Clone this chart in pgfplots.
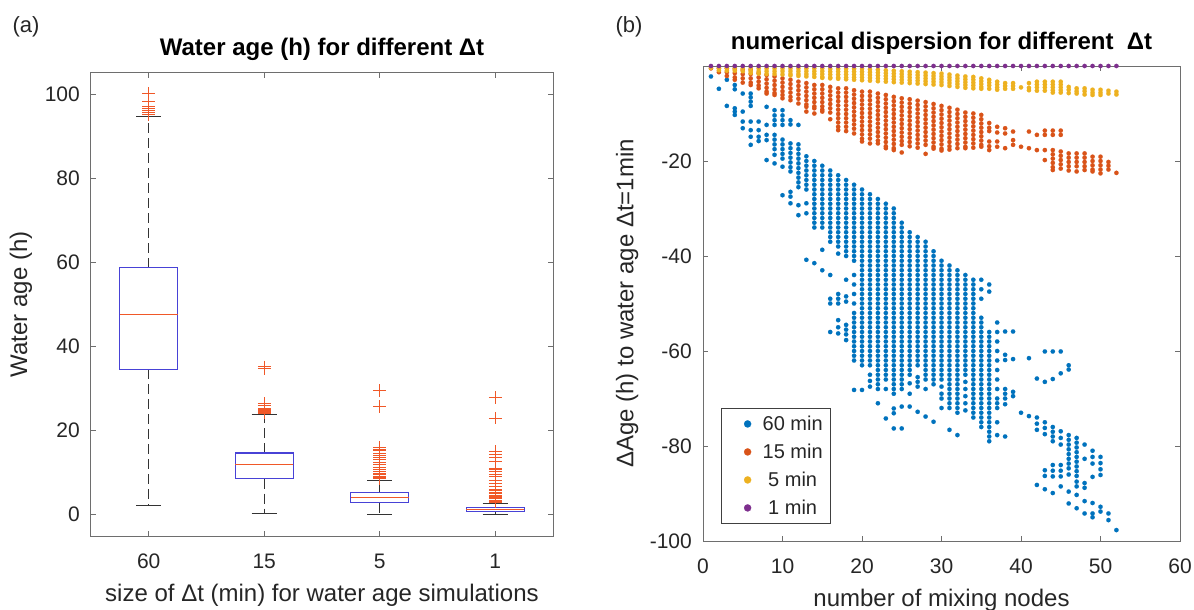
\documentclass[border=0pt]{standalone}
\usepackage{pgfplots}
\pgfplotsset{compat=1.18}
\usepgfplotslibrary{statistics}
\usepackage{fontspec}
\setmainfont{Liberation Sans}
\definecolor{mblue}{RGB}{0,114,189}
\definecolor{morange}{RGB}{217,83,25}
\definecolor{myellow}{RGB}{237,177,32}
\definecolor{mpurple}{RGB}{126,47,142}
\definecolor{boxcol}{RGB}{72,66,214}
\definecolor{medcol}{RGB}{240,88,40}
\definecolor{axcol}{RGB}{110,110,110}
\definecolor{txtcol}{RGB}{38,38,38}
\newcommand{\tickfont}{\fontsize{21}{25}\selectfont}
\newcommand{\labfont}{\fontsize{24}{28}\selectfont}

\pgfplotsset{
  mstyle/.style={
    scale only axis,
    axis line style={axcol, line width=1pt},
    every tick/.style={axcol, line width=1pt},
    major tick length=5pt,
    tick align=inside,
    xtick pos=both, ytick pos=both,
    ticklabel style={font=\tickfont, text=txtcol, inner sep=0pt},
    xticklabel style={anchor=base, yshift=-32pt},
    yticklabel style={anchor=east, xshift=-11pt},
    label style={font=\labfont, text=txtcol},
    xlabel style={at={(axis description cs:0.5,0)}, anchor=base, yshift=-65pt},
    title style={font=\labfont\bfseries, at={(axis description cs:0.5,1)}, anchor=base, yshift=11pt},
    /pgf/number format/assume math mode=true,
  },
  bx/.style={boxcol, line width=1pt, mark=+, mark size=6.3pt,
    mark options={draw=medcol, line width=1pt, solid}},
  dots/.style={only marks, mark=*, mark size=2.2pt, color=#1,
    mark options={fill=#1, draw=#1, line width=0.1pt},
    legend image code/.code={\path[draw=none, fill=none] (0pt,-3pt) rectangle (33pt,3pt);
      \draw[##1, mark size=3.6pt] plot coordinates {(20pt,0pt)};}},
}

\begin{document}
\begin{tikzpicture}
\useasboundingbox (0pt,0pt) rectangle (1194pt,-610pt);
\node[anchor=base west, font=\fontsize{22}{26}\selectfont, text=txtcol] at (9pt,-33pt) {(a)};
\node[anchor=base west, font=\fontsize{22}{26}\selectfont, text=txtcol] at (612pt,-33pt) {(b)};

% ---------- (a) box plots ----------
\begin{axis}[mstyle,
  at={(91pt,-536pt)}, anchor=south west,
  width=462pt, height=463pt,
  xmin=0.5, xmax=4.5, ymin=-5.16, ymax=105.07,
  xtick={1,2,3,4}, xticklabels={60,15,5,1},
  ytick={0,20,40,60,80,100},
  title={Water age (h) for different Δt},
  xlabel={size of Δt (min) for water age simulations},
  ylabel={Water age (h)},
  ylabel style={at={(axis description cs:-0.1515,0.5)}, anchor=center},
  boxplot/draw direction=y,
  boxplot/box extend=0.5,
  boxplot/whisker extend=0.22,
  boxplot/draw/box/.code={%
    \draw[boxcol, line width=1.1pt, solid]
      (boxplot box cs:\pgfplotsboxplotvalue{lower quartile},0) rectangle
      (boxplot box cs:\pgfplotsboxplotvalue{upper quartile},1);
  },
  boxplot/draw/median/.code={%
    \draw[medcol, line width=1.1pt, solid]
      (boxplot box cs:\pgfplotsboxplotvalue{median},0) --
      (boxplot box cs:\pgfplotsboxplotvalue{median},1);
  },
  boxplot/draw/lower whisker/.code={%
    \draw[black!80, line width=1pt, dash pattern=on 10pt off 5pt]
      (boxplot box cs:\pgfplotsboxplotvalue{lower quartile},0.5) --
      (boxplot box cs:\pgfplotsboxplotvalue{lower whisker},0.5);
    \draw[black!80, line width=1pt, solid]
      (boxplot whisker cs:\pgfplotsboxplotvalue{lower whisker},0) --
      (boxplot whisker cs:\pgfplotsboxplotvalue{lower whisker},1);
  },
  boxplot/draw/upper whisker/.code={%
    \draw[black!80, line width=1pt, dash pattern=on 10pt off 5pt]
      (boxplot box cs:\pgfplotsboxplotvalue{upper quartile},0.5) --
      (boxplot box cs:\pgfplotsboxplotvalue{upper whisker},0.5);
    \draw[black!80, line width=1pt, solid]
      (boxplot whisker cs:\pgfplotsboxplotvalue{upper whisker},0) --
      (boxplot whisker cs:\pgfplotsboxplotvalue{upper whisker},1);
  },
]
\addplot[bx, boxplot prepared={draw position=1, lower whisker=2.0,
  lower quartile=34.5, median=47.5, upper quartile=58.7, upper whisker=94.8}]
  table[row sep=\\, y index=0] {d\\ 95.2\\ 95.6\\ 96.1\\ 96.6\\ 97.2\\ 98.3\\ 100.2\\};
\addplot[bx, boxplot prepared={draw position=2, lower whisker=0.3,
  lower quartile=8.5, median=11.8, upper quartile=14.6, upper whisker=23.8}]
  table[row sep=\\, y index=0] {d\\ 24.1\\ 24.3\\ 24.5\\ 24.7\\ 25.0\\ 25.3\\ 25.8\\ 26.4\\ 34.6\\ 35.1\\};
\addplot[bx, boxplot prepared={draw position=3, lower whisker=0.0,
  lower quartile=2.8, median=4.0, upper quartile=5.1, upper whisker=8.0}]
  table[row sep=\\, y index=0] {d\\ 8.5\\ 8.7\\ 8.9\\ 9.1\\ 9.4\\ 9.7\\ 10.1\\ 10.6\\ 11.2\\ 11.8\\
  12.4\\ 13.0\\ 13.6\\ 14.1\\ 14.6\\ 15.1\\ 15.5\\ 16.0\\ 25.7\\ 29.5\\};
\addplot[bx, boxplot prepared={draw position=4, lower whisker=0.0,
  lower quartile=0.7, median=1.2, upper quartile=1.6, upper whisker=2.6}]
  table[row sep=\\, y index=0] {d\\ 2.9\\ 3.1\\ 3.4\\ 3.7\\ 4.0\\ 4.3\\ 4.6\\ 4.9\\ 5.2\\ 5.6\\
  6.0\\ 6.7\\ 7.3\\ 8.0\\ 8.9\\ 9.5\\ 10.2\\ 10.6\\ 11.0\\ 12.5\\ 13.6\\ 14.3\\ 15.0\\ 22.9\\ 27.8\\};
\end{axis}

% ---------- (b) scatter ----------
\begin{axis}[mstyle,
  at={(703pt,-541pt)}, anchor=south west,
  width=477pt, height=475pt,
  xmin=0, xmax=60, ymin=-100, ymax=0,
  xtick={0,10,20,30,40,50,60},
  ytick={-100,-80,-60,-40,-20},
  yticklabels={-100,-80,-60,-40,-20},
  clip=false,
  title={numerical dispersion for different \ Δt},
  xlabel={number of mixing nodes},
  ylabel={ΔAge (h) to water age Δt=1min},
  ylabel style={at={(axis description cs:-0.159,0.5)}, anchor=center},
  legend style={at={(axis description cs:0.038,0.036)}, anchor=south west,
    draw=black!75, line width=1pt, fill=white, inner xsep=6pt, inner ysep=5.5pt,
    row sep=8pt, font=\fontsize{20}{24}\selectfont, text=txtcol},
  legend cell align=left,
]
% 60 min
\addplot[dots=mblue] table[row sep=\\] {x y\\
1 -2.2\\ 2 -4.8\\ 3 -2.9\\ 3 -8.4\\
4 -4\\ 4 -4.9\\ 4 -8.9\\ 4 -9.6\\ 4 -10.3\\
5 -5.8\\ 5 -9.6\\ 5 -11.7\\ 5 -13.1\\
6 -5.8\\ 6 -6.6\\ 6 -7.5\\ 6 -8.4\\ 6 -11.7\\ 6 -13.5\\ 6 -14.9\\ 6 -16.6\\
7 -11.7\\ 7 -13.5\\ 7 -14.9\\ 7 -15.8\\
8 -8.6\\ 8 -12.4\\ 8 -14.5\\ 8 -15.6\\ 8 -19.8\\
9 -9.3\\ 9 -10.4\\ 9 -11.4\\ 9 -12.4\\ 9 -14.5\\ 9 -15.5\\ 9 -16.5\\ 9 -17.5\\ 9 -18.7\\ 9 -20.5\\
10 -9.3\\ 10 -10.4\\ 10 -11.4\\ 10 -12.4\\ 10 -15.5\\ 10 -16.5\\ 10 -17.5\\ 10 -18.5\\ 10 -19.5\\ 10 -21.2\\ 10 -27.2\\
11 -11.4\\ 11 -12.3\\ 11 -16.3\\ 11 -17.3\\ 11 -18.3\\ 11 -19.3\\ 11 -20.3\\ 11 -21.3\\ 11 -22.2\\ 11 -26.5\\ 11 -27.5\\ 11 -28.9\\
12 -12.4\\ 12 -16.5\\ 12 -17.5\\ 12 -18.5\\ 12 -19.5\\ 12 -20.5\\ 12 -21.5\\ 12 -22.5\\ 12 -23.5\\ 12 -24.5\\ 12 -25.5\\ 12 -29.3\\ 12 -31.4\\
13 -19\\ 13 -20\\ 13 -21\\ 13 -22\\ 13 -23\\ 13 -24\\ 13 -25\\ 13 -26\\ 13 -28.9\\ 13 -31\\ 13 -40.8\\
14 -20\\ 14 -21\\ 14 -22\\ 14 -23\\ 14 -24\\ 14 -25\\ 14 -26\\ 14 -27\\ 14 -28\\ 14 -29\\ 14 -30\\ 14 -31\\ 14 -32\\ 14 -33\\ 14 -34\\ 14 -41.5\\
15 -21\\ 15 -22\\ 15 -23\\ 15 -24\\ 15 -25\\ 15 -26\\ 15 -27\\ 15 -28\\ 15 -29\\ 15 -30\\ 15 -31\\ 15 -32\\ 15 -33\\ 15 -34\\ 15 -38.7\\ 15 -43\\
16 -22\\ 16 -23\\ 16 -24\\ 16 -25\\ 16 -26\\ 16 -27\\ 16 -28\\ 16 -29\\ 16 -30\\ 16 -31\\ 16 -32\\ 16 -33\\ 16 -34\\ 16 -35\\ 16 -36\\ 16 -37\\ 16 -44\\ 16 -49\\ 16 -50\\ 16 -56\\
17 -23\\ 17 -24\\ 17 -25\\ 17 -26\\ 17 -27\\ 17 -28\\ 17 -29\\ 17 -30\\ 17 -31\\ 17 -32\\ 17 -33\\ 17 -34\\ 17 -35\\ 17 -36\\ 17 -37\\ 17 -38\\ 17 -39.5\\ 17 -48\\ 17 -49\\ 17 -50\\ 17 -53.5\\ 17 -55\\ 17 -56.3\\
18 -24\\ 18 -25\\ 18 -26\\ 18 -27\\ 18 -28\\ 18 -29\\ 18 -30\\ 18 -31\\ 18 -32\\ 18 -33\\ 18 -34\\ 18 -35\\ 18 -36\\ 18 -37\\ 18 -38\\ 18 -39\\ 18 -40\\ 18 -45\\ 18 -48.5\\ 18 -49.6\\ 18 -54.5\\ 18 -55.5\\ 18 -56.5\\ 18 -57.7\\
19 -25\\ 19 -26\\ 19 -27\\ 19 -28\\ 19 -29\\ 19 -30\\ 19 -31\\ 19 -32\\ 19 -33\\ 19 -34\\ 19 -35\\ 19 -36\\ 19 -37\\ 19 -38\\ 19 -39\\ 19 -40\\ 19 -41\\ 19 -44\\ 19 -46\\ 19 -48\\ 19 -50\\
19 -52\\ 19 -53\\ 19 -54\\ 19 -55\\ 19 -56\\ 19 -57\\ 19 -58\\ 19 -59\\ 19 -60\\ 19 -61\\ 19 -62\\ 19 -68.2\\
20 -26\\ 20 -27\\ 20 -28\\ 20 -29\\ 20 -30\\ 20 -31\\ 20 -32\\ 20 -33\\ 20 -34\\ 20 -35\\ 20 -36\\ 20 -37\\ 20 -38\\ 20 -39\\ 20 -40\\ 20 -41\\ 20 -42\\ 20 -43\\ 20 -44\\
20 -45\\ 20 -46\\ 20 -47\\ 20 -48\\ 20 -49\\ 20 -50\\ 20 -51\\ 20 -52\\ 20 -53\\ 20 -54\\ 20 -55\\ 20 -56\\ 20 -57\\ 20 -58\\ 20 -59\\ 20 -60\\ 20 -61\\ 20 -62\\ 20 -63\\ 20 -68.2\\
21 -27\\ 21 -28\\ 21 -29\\ 21 -30\\ 21 -31\\ 21 -32\\ 21 -33\\ 21 -34\\ 21 -35\\ 21 -36\\ 21 -37\\ 21 -38\\ 21 -39\\ 21 -40\\ 21 -41\\ 21 -42\\ 21 -43\\ 21 -44\\ 21 -45\\
21 -46\\ 21 -47\\ 21 -48\\ 21 -49\\ 21 -50\\ 21 -51\\ 21 -52\\ 21 -53\\ 21 -54\\ 21 -55\\ 21 -56\\ 21 -57\\ 21 -58\\ 21 -59\\ 21 -60\\ 21 -61\\ 21 -62\\ 21 -63\\ 21 -65\\ 21 -66.3\\ 21 -67.5\\
22 -28\\ 22 -29\\ 22 -30\\ 22 -31\\ 22 -32\\ 22 -33\\ 22 -34\\ 22 -35\\ 22 -36\\ 22 -37\\ 22 -38\\ 22 -39\\ 22 -40\\ 22 -41\\ 22 -42\\ 22 -43\\ 22 -44\\ 22 -45\\ 22 -46\\ 22 -47\\
22 -48\\ 22 -49\\ 22 -50\\ 22 -51\\ 22 -52\\ 22 -53\\ 22 -54\\ 22 -55\\ 22 -56\\ 22 -57\\ 22 -58\\ 22 -59\\ 22 -60\\ 22 -61\\ 22 -62\\ 22 -63\\ 22 -64\\ 22 -65\\ 22 -66\\ 22 -67\\ 22 -68\\ 22 -71\\
23 -29\\ 23 -30\\ 23 -31\\ 23 -32\\ 23 -33\\ 23 -34\\ 23 -35\\ 23 -36\\ 23 -37\\ 23 -38\\ 23 -39\\ 23 -40\\ 23 -41\\ 23 -42\\ 23 -43\\ 23 -44\\ 23 -45\\ 23 -46\\ 23 -47\\
23 -48\\ 23 -49\\ 23 -50\\ 23 -51\\ 23 -52\\ 23 -53\\ 23 -54\\ 23 -55\\ 23 -56\\ 23 -57\\ 23 -58\\ 23 -59\\ 23 -60\\ 23 -61\\ 23 -62\\ 23 -63\\ 23 -64\\ 23 -65\\ 23 -66\\ 23 -68\\ 23 -74.2\\
24 -30\\ 24 -31\\ 24 -32\\ 24 -33\\ 24 -34\\ 24 -35\\ 24 -36\\ 24 -37\\ 24 -38\\ 24 -39\\ 24 -40\\ 24 -41\\ 24 -42\\ 24 -43\\ 24 -44\\ 24 -45\\ 24 -46\\ 24 -47\\ 24 -48\\ 24 -49\\
24 -50\\ 24 -51\\ 24 -52\\ 24 -53\\ 24 -54\\ 24 -55\\ 24 -56\\ 24 -57\\ 24 -58\\ 24 -59\\ 24 -60\\ 24 -61\\ 24 -62\\ 24 -63\\ 24 -64\\ 24 -65\\ 24 -66\\ 24 -67\\ 24 -68\\ 24 -69\\ 24 -72.1\\ 24 -73.1\\ 24 -76.3\\
25 -33\\ 25 -34\\ 25 -35\\ 25 -36\\ 25 -37\\ 25 -38\\ 25 -39\\ 25 -40\\ 25 -41\\ 25 -42\\ 25 -43\\ 25 -44\\ 25 -45\\ 25 -46\\ 25 -47\\ 25 -48\\ 25 -49\\ 25 -50\\
25 -51\\ 25 -52\\ 25 -53\\ 25 -54\\ 25 -55\\ 25 -56\\ 25 -57\\ 25 -58\\ 25 -59\\ 25 -60\\ 25 -61\\ 25 -62\\ 25 -63\\ 25 -64\\ 25 -65\\ 25 -66\\ 25 -67\\ 25 -68\\ 25 -71.7\\ 25 -76.3\\
26 -35\\ 26 -36\\ 26 -37\\ 26 -38\\ 26 -39\\ 26 -40\\ 26 -41\\ 26 -42\\ 26 -43\\ 26 -44\\ 26 -45\\ 26 -46\\ 26 -47\\ 26 -48\\ 26 -49\\ 26 -50\\
26 -51\\ 26 -52\\ 26 -53\\ 26 -54\\ 26 -55\\ 26 -56\\ 26 -57\\ 26 -58\\ 26 -59\\ 26 -60\\ 26 -61\\ 26 -62\\ 26 -63\\ 26 -64\\ 26 -65\\ 26 -66.8\\ 26 -69\\ 26 -71.7\\
27 -36\\ 27 -37\\ 27 -38\\ 27 -39\\ 27 -40\\ 27 -41\\ 27 -42\\ 27 -43\\ 27 -44\\ 27 -45\\ 27 -46\\ 27 -47\\ 27 -48\\ 27 -49\\ 27 -50\\
27 -51\\ 27 -52\\ 27 -53\\ 27 -54\\ 27 -55\\ 27 -56\\ 27 -57\\ 27 -58\\ 27 -59\\ 27 -60\\ 27 -61\\ 27 -62\\ 27 -63\\ 27 -65.5\\ 27 -66.5\\ 27 -67.5\\ 27 -72.8\\
28 -37\\ 28 -38\\ 28 -39\\ 28 -40\\ 28 -41\\ 28 -42\\ 28 -43\\ 28 -44\\ 28 -45\\ 28 -46\\ 28 -47\\ 28 -48\\ 28 -49\\ 28 -50\\ 28 -51\\
28 -52\\ 28 -53\\ 28 -54\\ 28 -55\\ 28 -56\\ 28 -57\\ 28 -58\\ 28 -59\\ 28 -60\\ 28 -61\\ 28 -62\\ 28 -63\\ 28 -64\\ 28 -65\\ 28 -66\\ 28 -68\\ 28 -73.8\\
29 -39\\ 29 -40\\ 29 -41\\ 29 -42\\ 29 -43\\ 29 -44\\ 29 -45\\ 29 -46\\ 29 -47\\ 29 -48\\ 29 -49\\ 29 -50\\ 29 -51\\ 29 -52\\ 29 -53\\
29 -54\\ 29 -55\\ 29 -56\\ 29 -57\\ 29 -58\\ 29 -59\\ 29 -60\\ 29 -61\\ 29 -62\\ 29 -63\\ 29 -64\\ 29 -65\\ 29 -66\\ 29 -67\\ 29 -74.9\\
30 -41\\ 30 -42\\ 30 -43\\ 30 -44\\ 30 -45\\ 30 -46\\ 30 -47\\ 30 -48\\ 30 -49\\ 30 -50\\ 30 -51\\ 30 -52\\ 30 -53\\ 30 -54\\ 30 -55\\
30 -56\\ 30 -57\\ 30 -58\\ 30 -59\\ 30 -60\\ 30 -61\\ 30 -62\\ 30 -63\\ 30 -64\\ 30 -65\\ 30 -66\\ 30 -67.5\\ 30 -69\\ 30 -70\\ 30 -72\\
31 -42\\ 31 -43\\ 31 -44\\ 31 -45\\ 31 -46\\ 31 -47\\ 31 -48\\ 31 -49\\ 31 -50\\ 31 -51\\ 31 -52\\ 31 -53\\ 31 -54\\ 31 -55\\ 31 -56\\
31 -57\\ 31 -58\\ 31 -59\\ 31 -60\\ 31 -61\\ 31 -62\\ 31 -63\\ 31 -64\\ 31 -65\\ 31 -66\\ 31 -67\\ 31 -68\\ 31 -69\\ 31 -70\\ 31 -71\\ 31 -72\\ 31 -76.6\\
32 -43\\ 32 -44\\ 32 -45\\ 32 -46\\ 32 -47\\ 32 -48\\ 32 -49\\ 32 -50\\ 32 -51\\ 32 -52\\ 32 -53\\ 32 -54\\ 32 -55\\ 32 -56\\ 32 -57\\
32 -58\\ 32 -59\\ 32 -60\\ 32 -61\\ 32 -62\\ 32 -63\\ 32 -64\\ 32 -65\\ 32 -66\\ 32 -67\\ 32 -68\\ 32 -69\\ 32 -70\\ 32 -71\\ 32 -72\\ 32 -73\\ 32 -77.7\\
33 -44\\ 33 -45\\ 33 -46\\ 33 -47\\ 33 -48\\ 33 -49\\ 33 -50\\ 33 -51\\ 33 -52\\ 33 -53\\ 33 -54\\ 33 -55\\ 33 -56\\ 33 -57\\ 33 -58\\
33 -59\\ 33 -60\\ 33 -61\\ 33 -62\\ 33 -63\\ 33 -64\\ 33 -65\\ 33 -66.5\\ 33 -68\\ 33 -69.5\\ 33 -71\\ 33 -72.5\\
34 -45\\ 34 -46\\ 34 -47\\ 34 -48\\ 34 -49\\ 34 -50\\ 34 -51\\ 34 -52\\ 34 -53\\ 34 -54\\ 34 -55\\ 34 -56\\ 34 -57\\ 34 -58\\ 34 -59\\
34 -60\\ 34 -61\\ 34 -62\\ 34 -63\\ 34 -64\\ 34 -65\\ 34 -66\\ 34 -67\\ 34 -68\\ 34 -69\\ 34 -70\\ 34 -71\\ 34 -72\\ 34 -73\\ 34 -74\\
35 -45\\ 35 -47\\ 35 -49\\ 35 -53\\ 35 -54\\ 35 -55\\ 35 -56\\ 35 -57\\ 35 -58\\ 35 -59\\ 35 -60\\ 35 -61\\ 35 -62\\ 35 -63\\
35 -64\\ 35 -65\\ 35 -66\\ 35 -67\\ 35 -68\\ 35 -69\\ 35 -70\\ 35 -71\\ 35 -72\\ 35 -73\\ 35 -74\\ 35 -75\\ 35 -76\\
36 -46\\ 36 -47.5\\ 36 -56\\ 36 -57\\ 36 -58\\ 36 -59\\ 36 -60\\ 36 -61\\ 36 -62\\ 36 -63\\ 36 -64\\ 36 -65\\ 36 -66\\ 36 -67\\
36 -68\\ 36 -69\\ 36 -70\\ 36 -71\\ 36 -72\\ 36 -73\\ 36 -74\\ 36 -75\\ 36 -76\\ 36 -77\\ 36 -78\\ 36 -79\\
37 -54\\ 37 -56\\ 37 -58\\ 37 -60\\ 37 -62\\ 37 -64\\ 37 -66\\ 37 -68\\ 37 -70\\ 37 -71\\ 37 -72\\ 37 -75\\ 37 -77.7\\
38 -55.9\\ 38 -60.8\\ 38 -61.9\\ 38 -68\\ 38 -69\\ 38 -70\\ 38 -71.2\\ 38 -78\\
39 -55.9\\ 39 -61.7\\ 39 -68.6\\ 39 -69.5\\ 40 -73\\ 41 -61.5\\ 41 -73.7\\
42 -65.8\\ 42 -74\\ 42 -75.3\\ 42 -76.6\\ 42 -88.2\\
43 -60.1\\ 43 -66.5\\ 43 -75\\ 43 -76.2\\ 43 -77.5\\ 43 -85.1\\ 43 -86.3\\ 43 -89.1\\
44 -60.1\\ 44 -65.9\\ 44 -76\\ 44 -77\\ 44 -78\\ 44 -79\\ 44 -84\\ 44 -85.2\\ 44 -86.4\\ 44 -89.9\\
45 -60.1\\ 45 -64.7\\ 45 -76.9\\ 45 -78.3\\ 45 -79.7\\ 45 -84\\ 45 -85.2\\ 45 -86.4\\ 45 -88.5\\
46 -63\\ 46 -63.9\\ 46 -77.7\\ 46 -78.7\\ 46 -79.7\\ 46 -80.7\\ 46 -81.7\\ 46 -82.7\\ 46 -83.7\\ 46 -84.7\\ 46 -86\\ 46 -89.6\\ 46 -92.1\\
47 -78.3\\ 47 -79.3\\ 47 -80.3\\ 47 -81.3\\ 47 -82.3\\ 47 -83.3\\ 47 -84.3\\ 47 -85.3\\ 47 -86.3\\ 47 -87.5\\ 47 -88.5\\ 47 -90.3\\ 47 -93.1\\
48 -79.7\\ 48 -82.7\\ 48 -87.8\\ 48 -88.8\\ 48 -91.6\\ 48 -94.2\\
49 -81\\ 49 -82.3\\ 49 -83.7\\ 49 -86.5\\ 49 -92\\ 49 -94.2\\ 49 -95\\
50 -82.3\\ 50 -83.6\\ 50 -84.9\\ 50 -86.1\\ 50 -92.8\\ 50 -93.8\\
51 -94.2\\ 51 -95.6\\ 52 -97.7\\
};
\addlegendentry{60 min}
% 15 min
\addplot[dots=morange] table[row sep=\\] {x y\\
1 -0.5\\ 2 -0.5\\ 2 -1.3\\ 3 -0.5\\ 3 -1.3\\ 3 -2.1\\
4 -0.6\\ 4 -1.5\\ 4 -2.4\\ 4 -2.9\\ 5 -0.8\\ 5 -1.7\\ 5 -2.6\\ 5 -3.5\\
6 -0.8\\ 6 -1.7\\ 6 -2.6\\ 6 -3.5\\ 6 -4\\ 7 -1.5\\ 7 -2.4\\ 7 -3.3\\ 7 -4.1\\ 7 -4.7\\
8 -1.9\\ 8 -2.8\\ 8 -3.7\\ 8 -4.6\\ 8 -5.4\\ 8 -5.8\\ 9 -2.2\\ 9 -3.1\\ 9 -4\\ 9 -4.9\\ 9 -5.7\\ 9 -6.1\\
10 -2.6\\ 10 -3.5\\ 10 -4.4\\ 10 -5.3\\ 10 -6.1\\ 10 -6.8\\ 11 -2.9\\ 11 -3.8\\ 11 -4.7\\ 11 -5.6\\ 11 -6.5\\ 11 -7.2\\
12 -3.3\\ 12 -4.2\\ 12 -5.1\\ 12 -6\\ 12 -6.9\\ 12 -7.9\\
13 -3.6\\ 13 -4.5\\ 13 -5.4\\ 13 -6.3\\ 13 -7.2\\ 13 -8.1\\ 13 -8.6\\ 13 -9.6\\
14 -4\\ 14 -4.9\\ 14 -5.8\\ 14 -6.7\\ 14 -7.6\\ 14 -8.5\\ 14 -8.9\\ 14 -10\\
15 -4\\ 15 -4.9\\ 15 -5.8\\ 15 -6.7\\ 15 -7.6\\ 15 -8.5\\ 15 -9.2\\ 15 -9.6\\
16 -4.4\\ 16 -5.3\\ 16 -6.2\\ 16 -7.1\\ 16 -8\\ 16 -8.9\\ 16 -9.8\\ 16 -11.2\\
17 -4.7\\ 17 -5.6\\ 17 -6.5\\ 17 -7.4\\ 17 -8.3\\ 17 -9.2\\ 17 -10.1\\ 17 -11\\ 17 -11.9\\ 17 -12.8\\ 17 -13.5\\
18 -4.7\\ 18 -5.6\\ 18 -6.5\\ 18 -7.4\\ 18 -8.3\\ 18 -9.2\\ 18 -10.1\\ 18 -11\\ 18 -11.9\\ 18 -12.8\\ 18 -13.7\\
19 -5.1\\ 19 -6\\ 19 -6.9\\ 19 -7.8\\ 19 -8.7\\ 19 -9.6\\ 19 -10.5\\ 19 -11.4\\ 19 -12.3\\ 19 -13.2\\ 19 -14.2\\
20 -5.4\\ 20 -6.3\\ 20 -7.2\\ 20 -8.1\\ 20 -9\\ 20 -9.9\\ 20 -10.8\\ 20 -11.7\\ 20 -12.6\\ 20 -13.5\\ 20 -14.4\\ 20 -15.3\\ 20 -15.9\\
21 -5.4\\ 21 -6.3\\ 21 -7.2\\ 21 -8.1\\ 21 -9\\ 21 -9.9\\ 21 -10.8\\ 21 -11.7\\ 21 -12.6\\ 21 -13.5\\ 21 -14.4\\ 21 -15.3\\ 21 -16.3\\
22 -5.8\\ 22 -6.7\\ 22 -7.6\\ 22 -8.5\\ 22 -9.4\\ 22 -10.3\\ 22 -11.2\\ 22 -12.1\\ 22 -13\\ 22 -13.9\\ 22 -14.8\\ 22 -15.7\\ 22 -16.3\\
23 -6.1\\ 23 -7\\ 23 -7.9\\ 23 -8.8\\ 23 -9.7\\ 23 -10.6\\ 23 -11.5\\ 23 -12.4\\ 23 -13.3\\ 23 -14.2\\ 23 -15.1\\ 23 -16\\ 23 -16.9\\ 23 -17.3\\
24 -6.5\\ 24 -7.4\\ 24 -8.3\\ 24 -9.2\\ 24 -10.1\\ 24 -11\\ 24 -11.9\\ 24 -12.8\\ 24 -13.7\\ 24 -14.6\\ 24 -15.5\\ 24 -16.4\\ 24 -17.3\\ 24 -17.7\\
25 -6.8\\ 25 -7.7\\ 25 -8.6\\ 25 -9.5\\ 25 -10.4\\ 25 -11.3\\ 25 -12.2\\ 25 -13.1\\ 25 -14\\ 25 -14.9\\ 25 -15.8\\ 25 -16.6\\ 25 -18.2\\
26 -7\\ 26 -7.9\\ 26 -8.8\\ 26 -9.7\\ 26 -10.6\\ 26 -11.5\\ 26 -12.4\\ 26 -13.3\\ 26 -14.2\\ 26 -15.1\\ 26 -16\\ 26 -16.9\\
27 -7.3\\ 27 -8.2\\ 27 -9.1\\ 27 -10\\ 27 -10.9\\ 27 -11.8\\ 27 -12.7\\ 27 -13.6\\ 27 -14.5\\ 27 -15.4\\ 27 -16.3\\ 27 -17.2\\
28 -7.6\\ 28 -8.5\\ 28 -9.4\\ 28 -10.3\\ 28 -11.2\\ 28 -12.1\\ 28 -13\\ 28 -13.9\\ 28 -14.8\\ 28 -15.7\\ 28 -16.6\\ 28 -18.5\\
29 -8\\ 29 -8.9\\ 29 -9.8\\ 29 -10.7\\ 29 -11.6\\ 29 -12.5\\ 29 -13.4\\ 29 -14.3\\ 29 -15.2\\ 29 -16.1\\ 29 -17\\ 29 -17.4\\
30 -8.4\\ 30 -9.3\\ 30 -10.2\\ 30 -11.1\\ 30 -12\\ 30 -12.9\\ 30 -13.8\\ 30 -14.7\\ 30 -15.6\\ 30 -16.5\\ 30 -17.4\\ 30 -17.8\\
31 -8.8\\ 31 -9.7\\ 31 -10.6\\ 31 -11.5\\ 31 -12.4\\ 31 -13.3\\ 31 -14.2\\ 31 -15.1\\ 31 -16\\ 31 -16.9\\ 31 -17.6\\
32 -9.2\\ 32 -10.1\\ 32 -11\\ 32 -11.9\\ 32 -12.8\\ 32 -13.7\\ 32 -14.6\\ 32 -15.5\\ 32 -16.4\\ 32 -17.3\\
33 -9.8\\ 33 -10.7\\ 33 -11.6\\ 33 -12.5\\ 33 -13.4\\ 33 -14.3\\ 33 -15.2\\ 33 -16.1\\ 33 -17\\ 33 -17.3\\
34 -10\\ 34 -10.9\\ 34 -11.8\\ 34 -12.7\\ 34 -13.6\\ 34 -14.5\\ 34 -15.4\\ 34 -16.3\\ 34 -17.2\\
35 -10.3\\ 35 -11.2\\ 35 -12.1\\ 35 -13\\ 35 -13.9\\ 35 -14.8\\ 35 -15.7\\ 35 -16.6\\ 35 -17\\
36 -12\\ 36 -13\\ 36 -13.7\\ 36 -15.9\\ 36 -16.9\\ 36 -17.7\\ 37 -12.8\\ 37 -14\\ 37 -15.9\\ 37 -17\\
38 -13.1\\ 38 -14.2\\ 38 -17.3\\ 39 -13.8\\ 39 -15.6\\ 39 -16.6\\ 40 -17\\ 41 -13.8\\ 41 -17.3\\ 42 -14.5\\ 42 -17.7\\
43 -13.6\\ 43 -14.5\\ 43 -17.7\\ 43 -19.8\\
44 -13.6\\ 44 -14.5\\ 44 -17.7\\ 44 -18.6\\ 44 -19.5\\ 44 -20.4\\ 44 -21.3\\ 44 -21.9\\
45 -13.6\\ 45 -14.5\\ 45 -18\\ 45 -18.9\\ 45 -19.8\\ 45 -20.7\\ 45 -21.6\\
46 -18.4\\ 46 -19.3\\ 46 -20.2\\ 46 -21.1\\ 46 -22\\ 47 -18.4\\ 47 -19.3\\ 47 -20.2\\ 47 -21.1\\ 47 -22.2\\
48 -18.4\\ 48 -19.3\\ 48 -20.2\\ 48 -21.1\\ 48 -21.9\\ 49 -19.1\\ 49 -20\\ 49 -20.9\\ 49 -21.8\\ 49 -22.2\\
50 -19.1\\ 50 -20\\ 50 -20.9\\ 50 -21.8\\ 50 -22.6\\ 51 -20.2\\ 51 -21\\ 51 -21.8\\ 52 -22.5\\
};
\addlegendentry{15 min}
% 5 min
\addplot[dots=myellow] table[row sep=\\] {x y\\
1 -0.4\\ 2 -0.4\\ 2 -0.9\\ 3 -0.4\\ 3 -1\\ 4 -0.4\\ 4 -1\\ 5 -0.5\\ 5 -1.1\\
6 -0.5\\ 6 -1.1\\ 6 -1.5\\ 7 -0.5\\ 7 -1.1\\ 7 -1.6\\ 8 -0.5\\ 8 -1.1\\ 8 -1.7\\ 9 -0.5\\ 9 -1.1\\ 9 -1.7\\
10 -0.5\\ 10 -1.1\\ 10 -1.8\\ 11 -0.5\\ 11 -1.1\\ 11 -1.7\\ 11 -2\\ 12 -0.5\\ 12 -1.1\\ 12 -1.7\\ 12 -2.1\\
13 -0.5\\ 13 -1.1\\ 13 -1.7\\ 13 -2.2\\ 14 -0.5\\ 14 -1.1\\ 14 -1.7\\ 14 -2.3\\
15 -0.5\\ 15 -1.1\\ 15 -1.7\\ 15 -2.3\\ 15 -2.5\\ 16 -0.6\\ 16 -1.2\\ 16 -1.8\\ 16 -2.4\\ 16 -2.6\\
17 -0.6\\ 17 -1.2\\ 17 -1.8\\ 17 -2.4\\ 17 -2.7\\ 18 -0.6\\ 18 -1.2\\ 18 -1.8\\ 18 -2.4\\ 18 -2.8\\
19 -0.6\\ 19 -1.2\\ 19 -1.8\\ 19 -2.4\\ 19 -2.9\\ 20 -0.6\\ 20 -1.2\\ 20 -1.8\\ 20 -2.4\\ 20 -3\\
21 -0.7\\ 21 -1.3\\ 21 -1.9\\ 21 -2.5\\ 21 -3.1\\ 22 -0.8\\ 22 -1.4\\ 22 -2\\ 22 -2.6\\ 22 -3.2\\
23 -0.9\\ 23 -1.5\\ 23 -2.1\\ 23 -2.7\\ 23 -3.3\\ 24 -1\\ 24 -1.6\\ 24 -2.2\\ 24 -2.8\\ 24 -3.4\\
25 -1.1\\ 25 -1.7\\ 25 -2.3\\ 25 -2.9\\ 25 -3.5\\ 26 -1.2\\ 26 -1.8\\ 26 -2.4\\ 26 -3\\ 26 -3.6\\
27 -1.3\\ 27 -1.9\\ 27 -2.5\\ 27 -3.1\\ 27 -3.7\\ 28 -1.4\\ 28 -2\\ 28 -2.6\\ 28 -3.2\\ 28 -3.8\\
29 -1.5\\ 29 -2.1\\ 29 -2.7\\ 29 -3.3\\ 29 -3.9\\ 30 -1.6\\ 30 -2.2\\ 30 -2.8\\ 30 -3.4\\ 30 -4\\
31 -1.8\\ 31 -2.4\\ 31 -3\\ 31 -3.6\\ 31 -4.2\\ 32 -2\\ 32 -2.6\\ 32 -3.2\\ 32 -3.8\\ 32 -4.4\\
33 -2.2\\ 33 -2.8\\ 33 -3.4\\ 33 -4\\ 33 -4.6\\ 34 -2.3\\ 34 -2.9\\ 34 -3.5\\ 34 -4.1\\ 34 -4.7\\
35 -2.6\\ 35 -3.2\\ 35 -3.8\\ 35 -4.4\\ 35 -4.8\\ 36 -2.9\\ 36 -3.5\\ 36 -4.1\\ 36 -4.8\\
37 -3.3\\ 37 -3.9\\ 37 -4.5\\ 37 -5\\ 38 -3.6\\ 38 -4.2\\ 38 -4.8\\ 39 -3.6\\ 39 -4.2\\ 39 -4.8\\
40 -4.5\\ 41 -3.6\\ 41 -4.6\\ 41 -5.1\\ 42 -3.3\\ 42 -3.9\\ 42 -4.5\\ 42 -5.2\\ 43 -3.3\\ 43 -3.9\\ 43 -4.5\\ 43 -5.2\\
44 -3.3\\ 44 -3.9\\ 44 -4.5\\ 44 -5.1\\ 44 -5.6\\ 45 -3.3\\ 45 -3.9\\ 45 -4.5\\ 45 -5.1\\ 45 -5.6\\
46 -4.4\\ 46 -5\\ 46 -5.7\\ 47 -4.7\\ 47 -5.3\\ 47 -5.8\\ 48 -4.7\\ 48 -5.3\\ 48 -6\\
49 -5\\ 49 -5.6\\ 49 -6.1\\ 50 -5\\ 50 -5.6\\ 50 -6.1\\ 51 -5.2\\ 51 -5.8\\ 52 -5.4\\ 52 -6\\
};
\addlegendentry{\hspace{5.6pt}5 min}
% 1 min
\addplot[dots=mpurple] table[row sep=\\] {x y\\
1 0\\ 2 0\\ 3 0\\ 4 0\\ 5 0\\ 6 0\\ 7 0\\ 8 0\\ 9 0\\ 10 0\\ 11 0\\ 12 0\\ 13 0\\
14 0\\ 15 0\\ 16 0\\ 17 0\\ 18 0\\ 19 0\\ 20 0\\ 21 0\\ 22 0\\ 23 0\\ 24 0\\ 25 0\\ 26 0\\
27 0\\ 28 0\\ 29 0\\ 30 0\\ 31 0\\ 32 0\\ 33 0\\ 34 0\\ 35 0\\ 36 0\\ 37 0\\ 38 0\\ 39 0\\
40 0\\ 41 0\\ 42 0\\ 43 0\\ 44 0\\ 45 0\\ 46 0\\ 47 0\\ 48 0\\ 49 0\\ 50 0\\ 51 0\\ 52 0\\
};
\addlegendentry{\hspace{5.6pt}1 min}
\end{axis}
\end{tikzpicture}
\end{document}
